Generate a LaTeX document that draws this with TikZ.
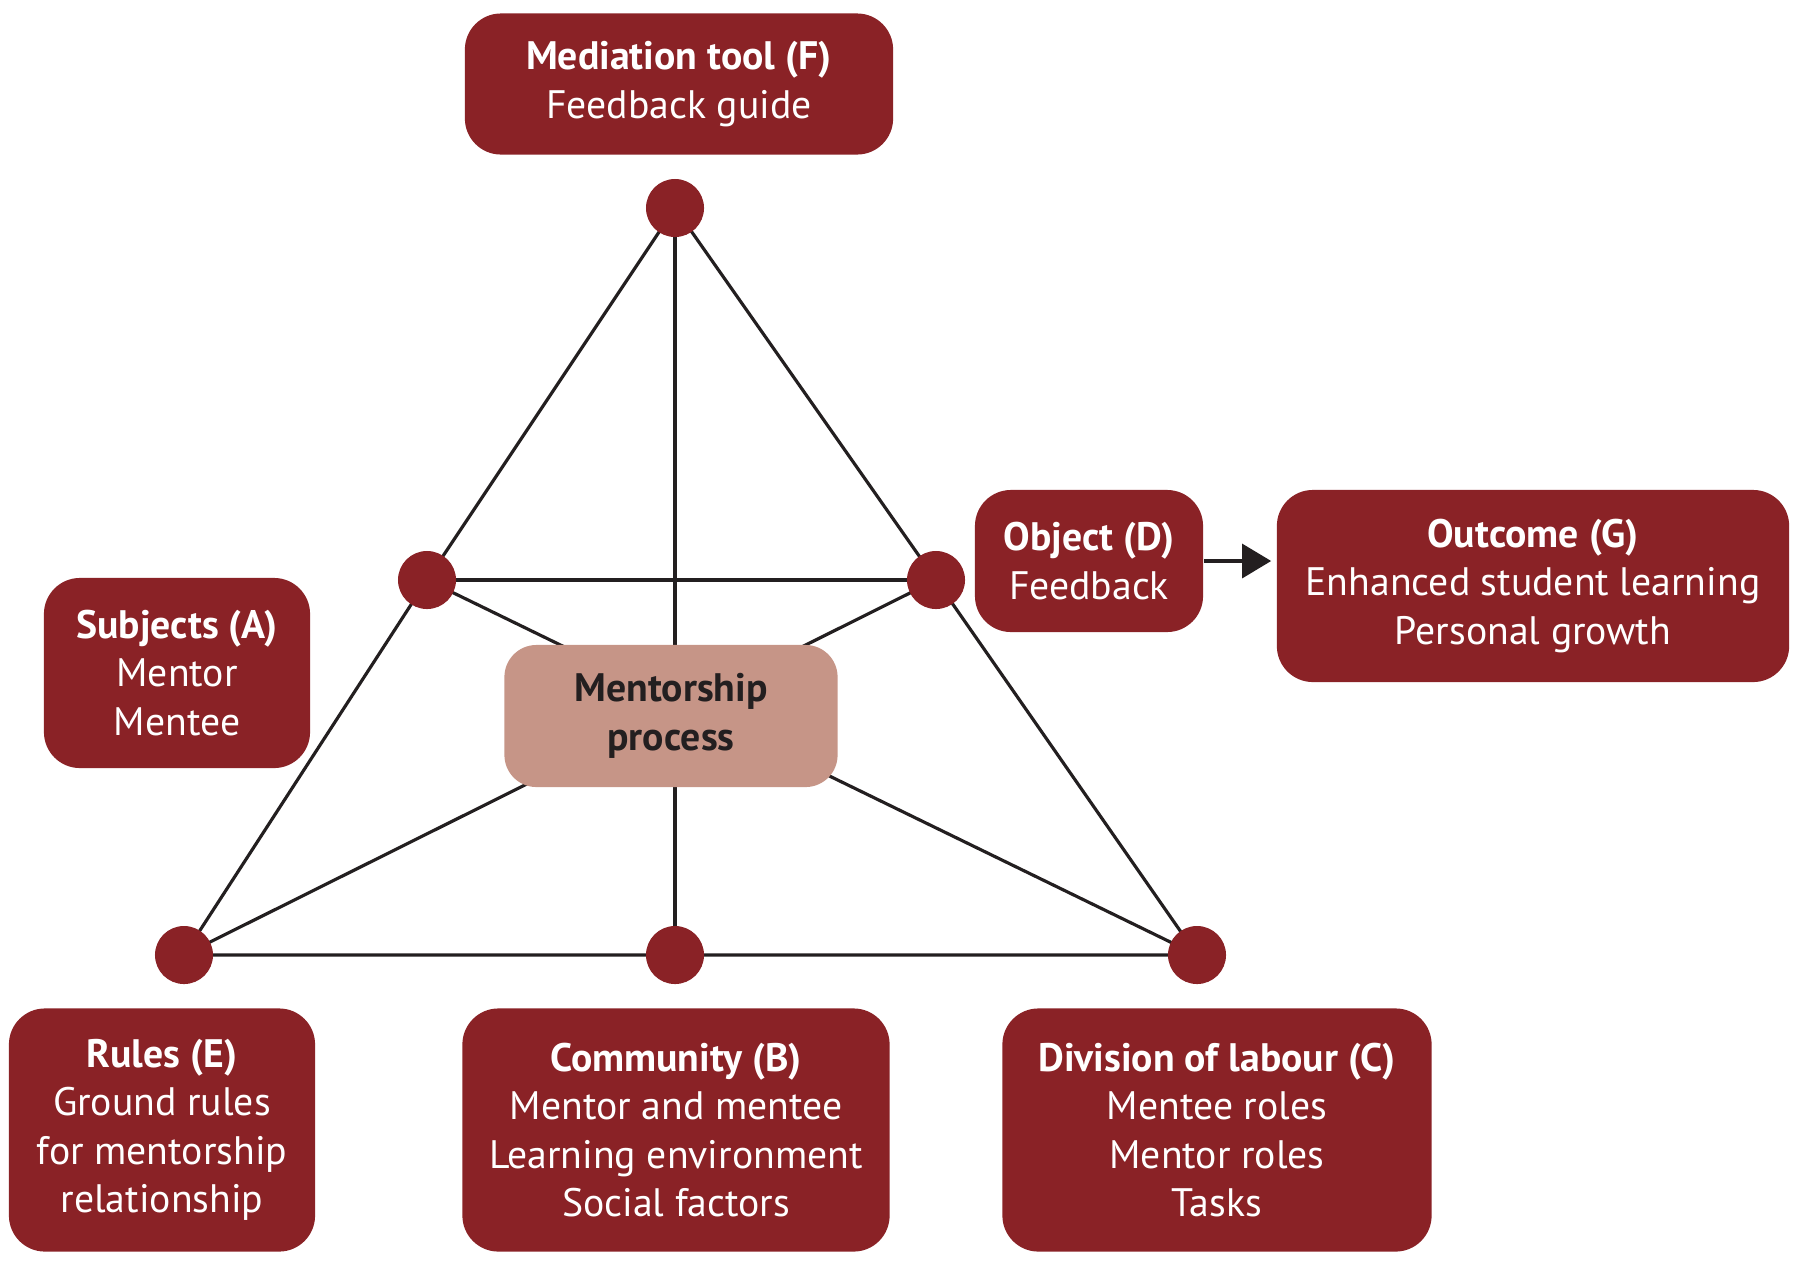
\documentclass[tikz,border=0pt]{standalone}
\usepackage{fontspec}
\setmainfont{PT Sans}
\usetikzlibrary{arrows.meta}
\usetikzlibrary{backgrounds}

\definecolor{wine}{HTML}{8A2226}
\definecolor{clay}{HTML}{C69587}
\definecolor{ink}{HTML}{231F20}

\tikzset{
  box/.style={rectangle,rounded corners=0.36cm,fill=wine,draw=none,text=white,align=center,
    inner sep=0pt,font=\fontsize{11.3}{13.8}\selectfont},
  hub/.style={rectangle,rounded corners=0.32cm,fill=clay,draw=none,text=ink,align=center,
    inner sep=0pt,font=\fontsize{11.3}{13.8}\selectfont\bfseries},
  dot/.style={circle,fill=wine,draw=none,minimum size=0.58cm,inner sep=0pt},
  link/.style={ink,line width=0.9pt}
}

\begin{document}
\begin{tikzpicture}[x=0.01cm,y=-0.01cm]
\useasboundingbox (0,0) rectangle (1800,1263);

% corners of the triangle
\node[dot] (dtop) at (675,208) {};
\node[dot] (dleft) at (427,580) {};
\node[dot] (dright) at (936,580) {};
\node[dot] (dbl) at (184,955) {};
\node[dot] (dbm) at (675,955) {};
\node[dot] (dbr) at (1197,955) {};

\node[hub,minimum width=3.33cm,minimum height=1.42cm] (process) at (671,716) {Mentorship\\process};

\begin{scope}[on background layer]
\draw[link] (dtop.center) -- (dleft.center) -- (dbl.center) -- (dbr.center) -- (dright.center) -- (dtop.center);
\draw[link] (dleft.center) -- (dright.center);
\draw[link] (dtop.center) -- (dbm.center);
\draw[link] (dleft.center) -- (dbr.center);
\draw[link] (dright.center) -- (dbl.center);
\end{scope}

% labels
\node[box,minimum width=4.28cm,minimum height=1.41cm] (mediation) at (679,84) {\textbf{Mediation tool (F)}\\Feedback guide};
\node[box,minimum width=2.66cm,minimum height=1.90cm] (subjects) at (177,673) {\textbf{Subjects (A)}\\Mentor\\Mentee};
\node[box,minimum width=2.28cm,minimum height=1.42cm] (object) at (1089,561) {\textbf{Object (D)}\\Feedback};
\node[box,minimum width=5.12cm,minimum height=1.92cm] (outcome) at (1533,586) {\textbf{Outcome (G)}\\Enhanced student learning\\Personal growth};
\node[box,minimum width=3.06cm,minimum height=2.43cm] (rules) at (162,1130) {\textbf{Rules (E)}\\Ground rules\\for mentorship\\relationship};
\node[box,minimum width=4.27cm,minimum height=2.43cm] (community) at (676,1130) {\textbf{Community (B)}\\Mentor and mentee\\Learning environment\\Social factors};
\node[box,minimum width=4.29cm,minimum height=2.43cm] (labour) at (1217,1130) {\textbf{Division of labour (C)}\\Mentee roles\\Mentor roles\\Tasks};

\draw[link,-{Triangle[length=0.29cm,width=0.34cm]},shorten >=0.05cm] (object.east) -- (object.east -| outcome.west);

\end{tikzpicture}
\end{document}
